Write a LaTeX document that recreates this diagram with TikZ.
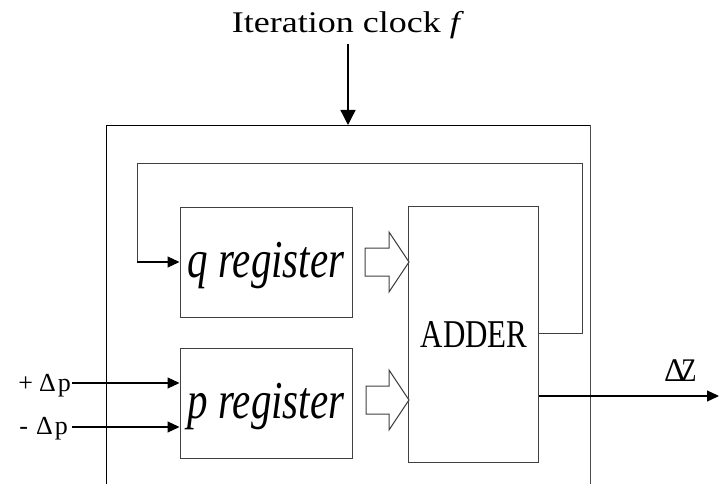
\documentclass[tikz,border=0pt]{standalone}
\usepackage{fontspec}
\setmainfont{Liberation Serif}
\usetikzlibrary{arrows.meta}
\tikzset{
  box/.style={draw=black!75, line width=1pt, inner sep=0pt, fill=none},
  lbl/.style={inner sep=0pt, anchor=base},
  wire/.style={draw=black!75, line width=1pt},
  sig/.style={draw=black, line width=1.2pt, -{Triangle[length=12pt,width=11pt]}},
  bigsig/.style={draw=black, line width=1.3pt, -{Triangle[length=15pt,width=15pt]}},
  hollow/.style={draw=black!75, line width=1pt, fill=white, line join=miter}
}
\begin{document}
\begin{tikzpicture}[x=1pt,y=-1pt]
\useasboundingbox (0,0) rectangle (719,484);
% outer frame (open at the bottom)
\coordinate (obl) at (106,484);
\coordinate (otl) at (106,125);
\coordinate (otr) at (590,125);
\coordinate (obr) at (590,484);
\draw[line width=1pt] (obl) -- (otl) -- (otr);
\draw[line width=1pt, black!70] (otr) -- (obr);
% blocks
\node[box, minimum width=172pt, minimum height=110pt] (q) at (266,262) {};
\node[box, minimum width=172pt, minimum height=110pt] (p) at (266,403) {};
\node[box, minimum width=130pt, minimum height=256pt] (adder) at (473,334) {};
% texts
\node[lbl] (qt) at (266,277) {\fontsize{41}{41}\selectfont\scalebox{1}[1.3]{\itshape q register}};
\node[lbl] (pt) at (266,418) {\fontsize{41}{41}\selectfont\scalebox{1}[1.3]{\itshape p register}};
\node[lbl] (at) at (474,347) {\fontsize{31}{31}\selectfont\scalebox{1}[1.27]{ADDER}};
\node[lbl] (clock) at (348,33) {\fontsize{30}{30}\selectfont\scalebox{1.2}[1]{Iteration clock \textit{f}}};
\coordinate (clk) at (348,44);
\draw[bigsig] (clk) -- (otl -| clk);
% inputs
\node[inner sep=0pt, anchor=base east] (pin) at (71,391) {\fontsize{26}{26}\selectfont +\hspace{6pt}Δ\hspace{2pt}p};
\node[inner sep=0pt, anchor=base east] (min) at (68,434) {\fontsize{26}{26}\selectfont -\hspace{8pt}Δ\hspace{2pt}p};
\coordinate (pinl) at (72,383);
\coordinate (minl) at (72,427);
\draw[sig] (pinl) -- (pinl -| p.west);
\draw[sig] (minl) -- (minl -| p.west);
% hollow arrows
\draw[hollow] (365,248) -- (389,248) -- (389,232) -- (409,262) -- (389,292) -- (389,276) -- (365,276) -- cycle;
\draw[hollow] (366,386) -- (389,386) -- (389,370) -- (409,400) -- (389,430) -- (389,414) -- (366,414) -- cycle;
% feedback
\coordinate (fb1) at (582,333);
\coordinate (fb2) at (582,163);
\coordinate (fb3) at (137,163);
\draw[wire] (adder.east |- fb1) -- (fb1) -- (fb2) -- (fb3) -- (fb3 |- q.west);
\draw[sig] (fb3 |- q.west) -- (q.west);
% output
\coordinate (zout) at (719,396);
\draw[sig] (adder.east |- zout) -- (zout);
\node[lbl, anchor=base west] (dz) at (664,381) {\fontsize{33}{33}\selectfont Δ\kern-4pt\scalebox{0.75}[1]{Z}};
\end{tikzpicture}
\end{document}
